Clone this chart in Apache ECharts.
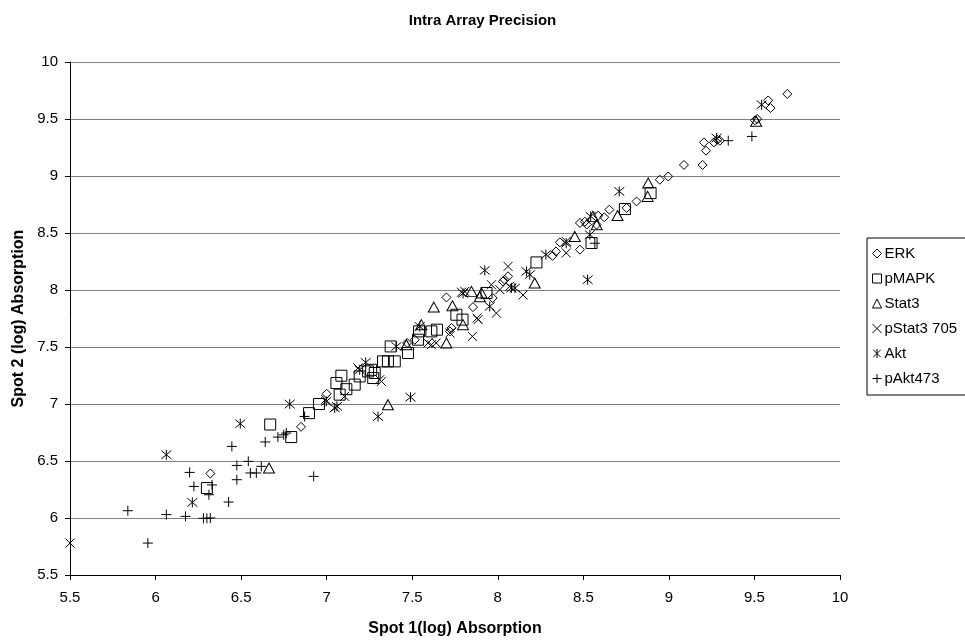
<!DOCTYPE html>
<html><head><meta charset="utf-8">
<script src="https://cdn.jsdelivr.net/npm/echarts@6/dist/echarts.min.js"></script>
<style>html,body{margin:0;padding:0;background:#fff}#c{width:965px;height:640px}</style>
</head><body><div id="c"></div>
<script>
const seriesNames = ['ERK','pMAPK','Stat3','pStat3 705','Akt','pAkt473'];
const xTicks = [5.5,6,6.5,7,7.5,8,8.5,9,9.5,10];
const yTicks = [5.5,6,6.5,7,7.5,8,8.5,9,9.5,10];

const erk = [[6.32,6.39],[6.85,6.80],[7.00,7.09],[7.47,7.535],[7.515,7.564],[7.72,7.637],[7.70,7.935],[7.855,7.85],[7.73,7.667],[7.97,7.93],[8.04,8.09],[8.03,8.075],[8.06,8.12],[8.32,8.30],[8.34,8.338],[8.363,8.418],[8.48,8.354],[8.48,8.588],[8.52,8.574],[8.577,8.574],[8.509,8.599],[8.587,8.652],[8.622,8.638],[8.652,8.705],[8.753,8.72],[8.811,8.777],[8.947,8.967],[8.996,8.996],[9.088,9.097],[9.197,9.097],[9.205,9.295],[9.217,9.222],[9.263,9.295],[9.283,9.318],[9.298,9.31],[9.503,9.488],[9.516,9.50],[9.58,9.663],[9.594,9.596],[9.692,9.72]];
const pmapk = [[6.30,6.263],[6.67,6.82],[6.793,6.71],[6.897,6.92],[6.955,7.0],[7.076,7.082],[7.057,7.184],[7.086,7.248],[7.115,7.13],[7.164,7.17],[7.193,7.242],[7.242,7.286],[7.281,7.272],[7.272,7.228],[7.26,7.30],[7.329,7.374],[7.358,7.374],[7.398,7.374],[7.374,7.505],[7.475,7.447],[7.534,7.564],[7.54,7.637],[7.612,7.637],[7.645,7.652],[7.758,7.783],[7.794,7.74],[7.934,7.974],[8.226,8.242],[8.548,8.412],[8.743,8.71],[8.893,8.85]];
const stat3 = [[6.663,6.438],[7.358,6.994],[7.466,7.52],[7.553,7.696],[7.626,7.85],[7.70,7.535],[7.735,7.862],[7.797,7.696],[7.846,7.988],[7.895,7.94],[7.905,7.974],[8.216,8.061],[8.45,8.47],[8.556,8.646],[8.578,8.573],[8.70,8.654],[8.876,8.821],[8.879,8.938],[9.51,9.48]];
const pstat3 = [[5.5,5.78],[6.994,7.04],[7.105,7.067],[7.183,7.316],[7.31,7.213],[7.32,7.198],[7.592,7.535],[7.612,7.52],[7.64,7.535],[7.72,7.623],[7.788,7.98],[7.807,7.988],[7.852,7.593],[7.879,7.754],[7.885,7.74],[7.963,8.046],[7.992,7.797],[8.012,8.003],[8.06,8.207],[8.07,8.032],[8.148,7.956],[8.40,8.426],[8.40,8.325]];
const akt = [[6.063,6.555],[6.215,6.137],[6.495,6.827],[6.784,6.999],[6.998,7.023],[7.047,6.965],[7.06,6.98],[7.193,7.30],[7.228,7.365],[7.30,6.89],[7.407,7.505],[7.49,7.06],[7.544,7.68],[7.797,7.97],[7.924,8.172],[7.953,7.856],[8.08,8.018],[8.10,8.017],[8.168,8.163],[8.187,8.134],[8.281,8.31],[8.40,8.41],[8.525,8.09],[8.538,8.485],[8.543,8.646],[8.71,8.865],[9.279,9.333],[9.542,9.625]];
const pakt = [[5.838,6.064],[5.955,5.78],[6.063,6.03],[6.175,6.014],[6.199,6.40],[6.224,6.277],[6.28,5.997],[6.30,5.997],[6.32,6.0],[6.312,6.204],[6.33,6.29],[6.427,6.14],[6.446,6.628],[6.475,6.461],[6.475,6.336],[6.542,6.497],[6.554,6.395],[6.589,6.395],[6.618,6.453],[6.641,6.667],[6.715,6.71],[6.749,6.73],[6.764,6.745],[6.871,6.891],[6.924,6.365],[8.567,8.41],[9.347,9.31],[9.485,9.347]];

const dataSets = [erk,pmapk,stat3,pstat3,akt,pakt];
const symbols = ['diamond','rect','triangle','path://M0,0L10,10M10,0L0,10','path://M0,0L10,10M10,0L0,10M5,-1L5,11','path://M5,0L5,10M0,5L10,5'];
const sizes = [[9,9],[11,11],[11,10],[9,9],[10,10],[10,10]];
const font = 'Liberation Sans, Arial, sans-serif';

const chart = echarts.init(document.getElementById('c'), null, {renderer:'canvas'});
chart.setOption({
  animation:false,
  backgroundColor:'#fff',
  title:{text:'Intra Array Precision',left:'center',top:8,textStyle:{fontFamily:font,fontSize:15,fontWeight:'bold',color:'#000'}},
  grid:{left:70,right:125,top:62,bottom:65,containLabel:false,outerBoundsMode:'none'},
  legend:{
    orient:'vertical',left:867,top:238,
    data:seriesNames,
    borderColor:'#000',borderWidth:1,padding:[8,12,9,5],
    itemWidth:9,itemHeight:9,itemGap:10,
    itemStyle:{borderWidth:1,borderColor:'#000',color:'rgba(0,0,0,0)'},
    textStyle:{fontFamily:font,fontSize:15,lineHeight:15,color:'#000',padding:[0,0,0,-2]}
  },
  xAxis:{type:'value',min:5.5,max:10,interval:0.5,
    name:'Spot 1(log) Absorption',nameLocation:'middle',nameGap:46,
    nameTextStyle:{fontFamily:font,fontSize:16,fontWeight:'bold',color:'#000'},
    axisLine:{show:true,onZero:false,lineStyle:{color:'#000'}},
    axisTick:{show:true,length:5,lineStyle:{color:'#000'}},
    axisLabel:{fontFamily:font,fontSize:15,color:'#000',margin:15,formatter:v=>String(v)},
    splitLine:{show:false}},
  yAxis:{type:'value',min:5.5,max:10,interval:0.5,
    name:'Spot 2 (log) Absorption',nameLocation:'middle',nameGap:43,nameRotate:90,
    nameTextStyle:{fontFamily:font,fontSize:16,fontWeight:'bold',color:'#000'},
    axisLine:{show:true,onZero:false,lineStyle:{color:'#000'}},
    axisTick:{show:true,length:5,lineStyle:{color:'#000'}},
    axisLabel:{fontFamily:font,fontSize:15,color:'#000',margin:12,formatter:v=>String(v)},
    splitLine:{show:true,lineStyle:{color:'#808080',width:1}}},
  series: seriesNames.map((n,i)=>({
    name:n,type:'scatter',data:dataSets[i],
    symbol:symbols[i],symbolSize:sizes[i],
    itemStyle:{color:'rgba(0,0,0,0)',borderColor:'#000',borderWidth:1,opacity:1},
    emphasis:{disabled:true}
  }))
});
</script></body></html>
